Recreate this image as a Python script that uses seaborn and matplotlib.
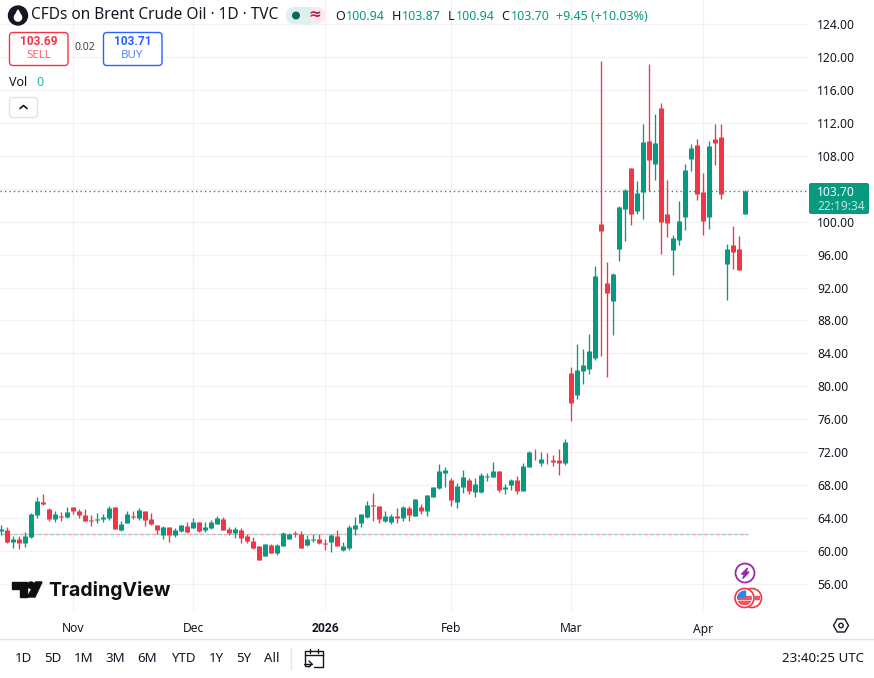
import matplotlib
matplotlib.use("Agg")
import matplotlib.pyplot as plt
from matplotlib.patches import Circle, FancyBboxPatch, Polygon, Rectangle, RegularPolygon
import pandas as pd
import seaborn as sns

# Daily candles
opens = [62.34, 62.46, 61.00, 61.36, 60.88, 61.61, 64.28, 65.87, 65.01, 63.80,
         64.16, 64.04, 65.26, 64.77, 64.28, 63.68, 63.68, 63.80, 63.92, 65.26,
         62.46, 63.31, 64.16, 63.92, 64.77, 63.80, 63.07, 61.85, 62.82, 61.85,
         62.34, 62.95, 62.70, 63.43, 62.46, 62.70, 63.19, 63.80, 62.58, 62.09,
         62.46, 61.73, 61.12, 60.51, 59.30, 60.63, 59.66, 60.51, 61.36, 62.09,
         61.97, 60.63, 61.24, 61.36, 60.88, 61.00, 61.73, 60.03, 60.27, 62.58,
         63.31, 64.04, 65.50, 65.38, 63.66, 63.54, 64.27, 64.03, 65.24, 64.27,
         65.36, 64.88, 66.58, 67.68, 69.50, 68.65, 65.97, 67.80, 68.65, 67.19,
         67.19, 69.01, 69.01, 69.74, 67.55, 68.04, 68.65, 67.31, 70.23, 71.81,
         70.72, 71.20, 71.08, 71.08, 70.72, 81.60, 78.92, 81.84, 82.09, 83.42,
         99.73, 92.55, 90.36, 96.68, 101.55, 106.54, 101.31, 103.62, 109.82, 107.02,
         113.87, 100.97, 96.59, 97.81, 100.61, 107.66, 109.36, 103.65, 100.61, 110.09,
         110.34, 94.89, 97.20, 96.71, 100.94]
highs = [63.07, 62.82, 61.73, 61.73, 62.22, 64.53, 66.47, 66.84, 65.14, 64.77,
         64.65, 65.26, 65.26, 65.01, 65.01, 64.28, 64.53, 64.41, 65.38, 65.26,
         63.55, 64.77, 64.77, 65.14, 64.77, 64.53, 63.07, 62.95, 62.82, 62.70,
         63.07, 63.43, 63.92, 63.43, 63.43, 63.68, 64.16, 64.04, 62.82, 62.82,
         62.70, 61.97, 61.61, 60.51, 60.76, 60.76, 60.76, 62.22, 62.09, 62.34,
         62.34, 61.85, 61.97, 61.97, 61.36, 61.97, 62.46, 61.00, 63.07, 64.04,
         64.41, 65.99, 66.96, 65.38, 64.88, 64.51, 65.24, 65.49, 65.49, 66.34,
         65.73, 66.82, 67.80, 70.60, 70.23, 68.89, 68.28, 69.87, 68.89, 68.89,
         69.50, 69.50, 70.84, 69.74, 68.16, 68.77, 69.14, 70.72, 72.18, 72.42,
         72.05, 71.93, 71.69, 72.42, 73.64, 82.33, 85.13, 84.52, 86.34, 94.62,
         119.55, 95.10, 93.76, 101.91, 103.98, 106.54, 104.96, 111.89, 119.19, 113.11,
         114.47, 105.11, 98.42, 102.55, 107.05, 109.49, 110.09, 105.96, 109.85, 111.92,
         111.92, 97.32, 99.51, 98.29, 103.87]
lows = [61.85, 60.92, 60.27, 60.15, 60.39, 61.49, 63.92, 65.50, 63.55, 63.43,
        63.55, 63.92, 64.41, 63.92, 63.55, 62.95, 63.31, 63.43, 63.68, 62.58,
        62.34, 63.31, 63.80, 63.68, 62.95, 63.07, 61.97, 61.36, 61.00, 61.61,
        62.22, 62.09, 62.70, 62.22, 62.22, 62.58, 63.19, 62.46, 61.85, 61.49,
        60.88, 60.88, 60.15, 58.81, 59.30, 59.66, 59.42, 60.51, 61.36, 61.61,
        60.27, 60.51, 61.00, 60.76, 60.03, 59.78, 60.51, 59.90, 60.03, 61.85,
        62.82, 63.92, 63.55, 63.31, 63.54, 63.30, 63.42, 63.66, 63.66, 64.27,
        64.51, 64.27, 66.58, 67.55, 67.80, 65.49, 65.24, 67.07, 66.95, 66.58,
        67.07, 68.53, 69.01, 67.19, 66.95, 67.43, 66.95, 67.31, 70.23, 71.08,
        70.35, 70.60, 70.35, 69.26, 70.47, 75.76, 78.44, 80.26, 81.48, 83.18,
        83.67, 81.11, 86.22, 95.22, 97.66, 99.60, 100.94, 100.33, 103.74, 105.08,
        96.10, 98.17, 93.55, 97.20, 99.02, 106.20, 102.67, 98.42, 99.15, 106.93,
        102.80, 90.51, 94.28, 94.16, 100.94]
closes = [62.58, 61.00, 61.36, 60.88, 61.73, 64.41, 65.99, 65.62, 63.80, 64.41,
          64.04, 64.65, 64.77, 64.28, 63.55, 63.59, 63.80, 64.04, 65.14, 62.58,
          63.19, 64.41, 64.04, 64.89, 63.68, 63.19, 62.46, 62.82, 61.85, 62.46,
          63.07, 62.22, 63.43, 62.34, 62.82, 63.43, 63.92, 62.46, 62.09, 62.58,
          61.49, 61.12, 60.27, 58.81, 60.76, 59.66, 60.63, 62.09, 61.97, 61.97,
          60.27, 61.36, 61.36, 60.88, 60.80, 61.85, 60.51, 60.51, 62.82, 63.07,
          64.41, 65.50, 65.42, 63.80, 64.27, 64.27, 63.95, 65.36, 64.39, 66.34,
          64.88, 66.82, 67.80, 69.74, 69.87, 66.22, 67.92, 69.01, 67.31, 68.16,
          69.26, 69.14, 69.74, 67.43, 67.80, 68.65, 67.31, 70.35, 72.05, 71.73,
          71.20, 71.12, 70.84, 70.72, 73.27, 77.95, 81.96, 82.57, 84.28, 93.40,
          98.87, 91.33, 93.64, 101.79, 103.86, 100.94, 103.50, 109.70, 107.51, 109.58,
          100.00, 99.88, 98.05, 100.12, 106.32, 109.00, 103.40, 100.12, 109.24, 109.61,
          103.40, 96.71, 96.35, 94.16, 103.70]

price_ticks = [56, 60, 64, 68, 72, 76, 80, 84, 88, 92, 96, 100, 104, 108, 112, 116, 120, 124]
month_idx = [12, 32, 54, 75, 95, 117]
month_labels = ["Nov", "Dec", "2026", "Feb", "Mar", "Apr"]
last_price = 103.70
prev_level = 62.05
range_buttons = [("1D", 23), ("5D", 53), ("1M", 83.5), ("3M", 115.5), ("6M", 147.5),
                 ("YTD", 183), ("1Y", 216), ("5Y", 244), ("All", 272)]

GREEN = "#089981"
RED = "#F23645"
INK = "#131722"
GRID = "#F1F1F3"
W, H = 874, 678

sns.set_theme(style="whitegrid", rc={"grid.color": GRID, "grid.linewidth": 0.9})
plt.rcParams["font.family"] = ["Noto Sans", "DejaVu Sans"]

df = pd.DataFrame({"i": range(len(opens)), "o": opens, "h": highs, "l": lows, "c": closes})
df["side"] = ["up" if c >= o else "down" for o, c in zip(opens, closes)]
wicks = df.melt(id_vars=["i", "side"], value_vars=["h", "l"], value_name="price")
bodies = df.melt(id_vars=["i", "side"], value_vars=["o", "c"], value_name="price")
colors = {"up": GREEN, "down": RED}

fig = plt.figure(figsize=(W / 100, H / 100), dpi=100)
# plot area is 808x610 px at the top left of the page
ax = fig.add_axes([0, 1 - 610 / H, 808 / W, 610 / H])

sns.lineplot(data=wicks, x="i", y="price", hue="side", units="i", estimator=None,
             palette=colors, linewidth=0.95, solid_capstyle="butt", legend=False, ax=ax)
sns.lineplot(data=bodies, x="i", y="price", hue="side", units="i", estimator=None,
             palette=colors, linewidth=3.6, solid_capstyle="butt", legend=False, ax=ax)

ax.set_xlim(-0.217, 134.45)
ax.set_ylim(52.78, 126.98)
ax.set_xlabel("")
ax.set_ylabel("")
ax.set_xticks(month_idx, month_labels)
ax.set_yticks(price_ticks, [f"{p:.2f}" for p in price_ticks])
ax.yaxis.tick_right()
ax.tick_params(axis="both", length=0, labelsize=8.7, colors=INK)
ax.tick_params(axis="x", pad=9)
ax.tick_params(axis="y", pad=6.5)
ax.get_xticklabels()[2].set_fontfamily("Roboto")
ax.get_xticklabels()[2].set_fontweight("bold")
sns.despine(ax=ax, left=True, bottom=True)

# last price and previous level lines
ax.axhline(last_price, color=GREEN, linewidth=1, linestyle=(0, (1, 2.2)))
last_i = len(opens) - 1 + 0.4
ax.plot([0, last_i], [prev_level, prev_level], color="#8FD6C8", linewidth=1, linestyle=(0, (3.6, 5.04)), zorder=1)
ax.plot([0, last_i], [prev_level, prev_level], color="#F9A6AD", linewidth=1, linestyle=(4.32, (3.6, 5.04)), zorder=1)

# Everything around the chart, drawn on a page sized layer in pixels
ui = fig.add_axes([0, 0, 1, 1], zorder=5)
ui.set_xlim(0, W)
ui.set_ylim(H, 0)
ui.axis("off")
ui.patch.set_alpha(0)


def label(x, y, s, size=9, color=INK, ha="left", **kw):
    ui.text(x, y, s, fontsize=size, color=color, ha=ha, va="center", **kw)


def box(x, y, w, h, face="none", edge="none", r=3.5, lw=1):
    ui.add_patch(FancyBboxPatch((x + r, y + r), w - 2 * r, h - 2 * r, boxstyle=f"round,pad={r}",
                                fc=face, ec=edge, lw=lw))


# header
ui.add_patch(Circle((18, 15.5), 9.5, color="#131722"))
ui.add_patch(Circle((18, 17.5), 3.6, color="white"))
ui.add_patch(Polygon([(18, 10), (15, 16), (21, 16)], color="white"))
label(31, 15, "CFDs on Brent Crude Oil · 1D · TVC", size=11.1)
box(286, 7, 24, 17, face="#DDF1EC", r=8)
box(304, 7, 21, 17, face="#FCE8EE", r=8)
ui.add_patch(Rectangle((304, 7), 6, 17, color="#DDF1EC"))
ui.add_patch(Circle((296, 15.5), 3.3, color="#0B6B57"))
label(315, 15, "≈", size=11, color="#C2185B", ha="center", fontweight="bold")
for x, s, c in [(335, "O", INK), (346, "100.94", GREEN), (392, "H", INK), (402, "103.87", GREEN),
                (448, "L", INK), (456, "100.94", GREEN), (501, "C", INK), (511, "103.70", GREEN),
                (556, "+9.45 (+10.03%)", GREEN)]:
    label(x, 16, s, size=9, color=c)

# sell / buy
box(9.5, 32.5, 58.5, 33, face="white", edge=RED)
label(38.5, 41.5, "103.69", size=8.6, color=RED, ha="center", fontweight="bold", family="Roboto")
label(38.5, 56, "SELL", size=8.3, color="#F7646F", ha="center")
label(85, 48, "0.02", size=7.6, color="#3B3F4A", ha="center")
box(103.5, 32.5, 58.5, 33, face="white", edge="#2962FF")
label(132.5, 41.5, "103.71", size=8.6, color="#2962FF", ha="center", fontweight="bold", family="Roboto")
label(132.5, 56, "BUY", size=8.3, color="#5A86FF", ha="center")
label(9, 83, "Vol", size=9)
label(36, 83, "0", size=9, color="#2BB3A3")
box(9.5, 97.5, 28, 20, face="white", edge="#E0E3EB")
ui.plot([20, 23.5, 27], [108.5, 105.5, 108.5], color=INK, lw=1.2)

# price tag on the axis
box(809, 183, 60, 31, face=GREEN, r=2)
label(817, 192, "103.70", size=8.7, color="white")
label(817, 206, "22:19:34", size=8.6, color="#BFE6DE")

# logo
ui.add_patch(Polygon([(12, 582), (26.5, 582), (26.5, 597), (19.5, 597), (19.5, 588.5), (12, 588.5)], color="#0F0F0F"))
ui.add_patch(Circle((31, 585.2), 3.2, color="#0F0F0F"))
ui.add_patch(Polygon([(35.5, 582), (42, 582), (35, 597), (27.5, 597)], color="#0F0F0F"))
label(48, 590, "TradingView", size=14, color="#0F0F0F", fontweight="bold", family="Inter")

# event markers
ui.add_patch(Circle((745, 573), 9.5, fc="white", ec="#9C27B0", lw=1.3))
ui.add_patch(Polygon([(747.5, 568), (741.5, 574.2), (744.7, 574.2), (742.8, 578.5), (749, 572), (745.8, 572)], color="#9C27B0"))

ui.add_patch(Circle((752, 598), 9.5, fc="white", ec=RED, lw=1.2))
ui.add_patch(Rectangle((755, 596), 3.5, 3, color="#F7525F"))
ui.add_patch(Circle((744.5, 598), 9.5, fc="white", ec=RED, lw=1.2))
flag = Circle((744.5, 598), 7.4, fc="white", ec="none")
ui.add_patch(flag)
for y in [596, 601]:
    stripe = Rectangle((735, y), 20, 2.6, color="#F7525F")
    ui.add_patch(stripe)
    stripe.set_clip_path(flag)
canton = Rectangle((735, 589), 10, 8, color="#2E86E6")
ui.add_patch(canton)
canton.set_clip_path(flag)

# settings hexagon on the time axis
ui.add_patch(RegularPolygon((841, 625.5), 6, radius=7.5, orientation=3.14159 / 2, fc="white", ec=INK, lw=1))
ui.add_patch(Circle((841, 625.5), 2.2, fc="white", ec=INK, lw=1))

# bottom toolbar
ui.plot([0, W], [639, 639], color="#E0E3EB", lw=1)
for s, x in range_buttons:
    label(x, 658, s, size=9.6, ha="center")
ui.plot([290.5, 290.5], [648, 669], color="#E0E3EB", lw=1)
ui.plot([309, 305, 305, 323, 323, 314], [666, 666, 651, 651, 666.5, 666.5], color=INK, lw=1)
ui.plot([305, 323], [655, 655], color=INK, lw=1)
ui.plot([310, 310], [649, 653], color=INK, lw=1)
ui.plot([318, 318], [649, 653], color=INK, lw=1)
ui.plot([304, 312], [664, 664], color=INK, lw=1)
ui.plot([309, 312, 309], [661, 664, 667], color=INK, lw=1)
label(864, 658, "23:40:25 UTC", size=9.6, ha="right")

fig.savefig("out.png", dpi=100)
